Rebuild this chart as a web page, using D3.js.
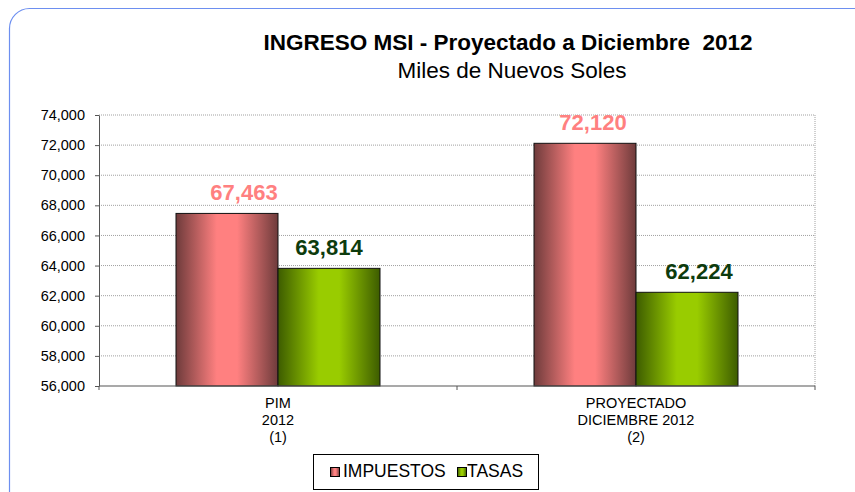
<html lang="es">
<head>
<meta charset="UTF-8">
<style>
  body { margin:0; background:#fff; }
  text { font-family: "Liberation Sans", Arial, sans-serif; }
</style>
<title>Ingreso MSI</title>
</head>
<body>
<div id="chart"></div>
<script src="https://d3js.org/d3.v7.min.js"></script>
<script>
  const categories = [["PIM", "2012", "(1)"], ["PROYECTADO", "DICIEMBRE 2012", "(2)"]];
  const series = ["IMPUESTOS", "TASAS"];
  const impuestos = [67463, 72120];
  const tasas = [63814, 62224];
  const yTicks = [56000, 58000, 60000, 62000, 64000, 66000, 68000, 70000, 72000, 74000];
  // label nudges as placed in the original (impuestos, tasas) per category
  const labelDx = [[17, 0], [8, 12]];

  const W = 855, H = 492;
  const margin = {top: 115, right: 40, bottom: 106, left: 99};
  const width = 815 - margin.left, height = 386 - margin.top;

  const svg = d3.select("#chart").append("svg")
      .attr("width", W).attr("height", H);

  // frame
  svg.append("rect")
      .attr("x", 9.5).attr("y", 8.5)
      .attr("width", W + 30).attr("height", H + 30)
      .attr("rx", 20)
      .attr("fill", "none").attr("stroke", "#6d8ff0").attr("stroke-width", 1.2);

  const defs = svg.append("defs");
  function grad(id, dark, light) {
    const g = defs.append("linearGradient").attr("id", id)
        .attr("x1", "0%").attr("x2", "100%").attr("y1", "0%").attr("y2", "0%");
    g.append("stop").attr("offset", "0%").attr("stop-color", dark);
    g.append("stop").attr("offset", "40%").attr("stop-color", light);
    g.append("stop").attr("offset", "60%").attr("stop-color", light);
    g.append("stop").attr("offset", "100%").attr("stop-color", dark);
  }
  grad("gImp", "#6e3b3b", "#ff8080");
  grad("gTas", "#3d5c00", "#99cc00");

  const g = svg.append("g").attr("transform", "translate(" + margin.left + "," + margin.top + ")");

  const x = d3.scaleBand().domain([0, 1]).range([0, width]);
  const y = d3.scaleLinear().domain([56000, 74000]).range([height, 0]);
  const barW = 102;

  // gridlines
  g.append("g").selectAll("line").data(yTicks.slice(1)).enter().append("line")
      .attr("x1", 0).attr("x2", width)
      .attr("y1", d => y(d)).attr("y2", d => y(d))
      .attr("stroke", "#a0a0a0").attr("stroke-dasharray", "1,1");
  // plot border right
  g.append("line").attr("x1", width).attr("x2", width).attr("y1", 0).attr("y2", height)
      .attr("stroke", "#a0a0a0").attr("stroke-dasharray", "1,1");

  // bars
  const data = [];
  categories.forEach((c, i) => {
    data.push({i: i, s: 0, v: impuestos[i]});
    data.push({i: i, s: 1, v: tasas[i]});
  });
  g.append("g").selectAll("rect").data(data).enter().append("rect")
      .attr("x", d => x(d.i) + x.bandwidth() / 2 - barW + d.s * barW)
      .attr("y", d => y(d.v))
      .attr("width", barW)
      .attr("height", d => height - y(d.v))
      .attr("fill", d => d.s === 0 ? "url(#gImp)" : "url(#gTas)")
      .attr("stroke", "#111").attr("stroke-width", 1);

  g.append("g").selectAll("text").data(data).enter().append("text")
      .attr("x", d => x(d.i) + x.bandwidth() / 2 - barW / 2 + d.s * barW + labelDx[d.i][d.s])
      .attr("y", d => y(d.v) - 13)
      .attr("text-anchor", "middle")
      .attr("font-size", 22).attr("font-weight", "bold")
      .attr("fill", d => d.s === 0 ? "#ff8080" : "#0d3b0d")
      .text(d => d3.format(",")(d.v));

  // axes
  const yAxis = g.append("g").call(d3.axisLeft(y).tickValues(yTicks).tickFormat(d3.format(",")).tickSize(4).tickSizeOuter(0));
  yAxis.select(".domain").attr("stroke", "#555");
  yAxis.selectAll(".tick line").attr("stroke", "#555");
  yAxis.selectAll("text").attr("font-size", 14.5).attr("fill", "#000").attr("x", -14);

  const xAxis = g.append("g").attr("transform", "translate(0," + height + ")");
  xAxis.append("line").attr("x1", 0).attr("x2", width).attr("stroke", "#555").attr("stroke-width", 1.2);
  xAxis.selectAll(".xt").data([0, 1, 2]).enter().append("line")
      .attr("x1", d => d * x.bandwidth()).attr("x2", d => d * x.bandwidth())
      .attr("y1", 0).attr("y2", 4).attr("stroke", "#555");
  categories.forEach((c, i) => {
    const t = xAxis.append("text").attr("text-anchor", "middle")
        .attr("font-size", 14.5).attr("fill", "#000");
    c.forEach((line, k) => {
      t.append("tspan").attr("x", x(i) + x.bandwidth() / 2).attr("y", 22 + k * 17).text(line);
    });
  });

  // titles
  svg.append("text").attr("x", 508).attr("y", 50).attr("text-anchor", "middle")
      .attr("font-size", 22.5).attr("font-weight", "bold").attr("fill", "#000")
      .attr("xml:space", "preserve")
      .text("INGRESO MSI - Proyectado a Diciembre  2012");
  svg.append("text").attr("x", 512).attr("y", 78).attr("text-anchor", "middle")
      .attr("font-size", 22.5).attr("fill", "#000")
      .text("Miles de Nuevos Soles");

  // legend
  const lg = svg.append("g");
  lg.append("rect").attr("x", 313.5).attr("y", 454.5).attr("width", 225).attr("height", 35)
      .attr("fill", "#fff").attr("stroke", "#000");
  const items = [{x: 330, tx: 343, name: series[0], fill: "url(#gImp)"},
                 {x: 457, tx: 467, name: series[1], fill: "url(#gTas)"}];
  items.forEach(it => {
    lg.append("rect").attr("x", it.x + 0.5).attr("y", 467.5).attr("width", 9).attr("height", 9)
        .attr("fill", it.fill).attr("stroke", "#000");
    lg.append("text").attr("x", it.tx).attr("y", 477).attr("font-size", 17.5).attr("fill", "#000").text(it.name);
  });
</script>
</body>
</html>
